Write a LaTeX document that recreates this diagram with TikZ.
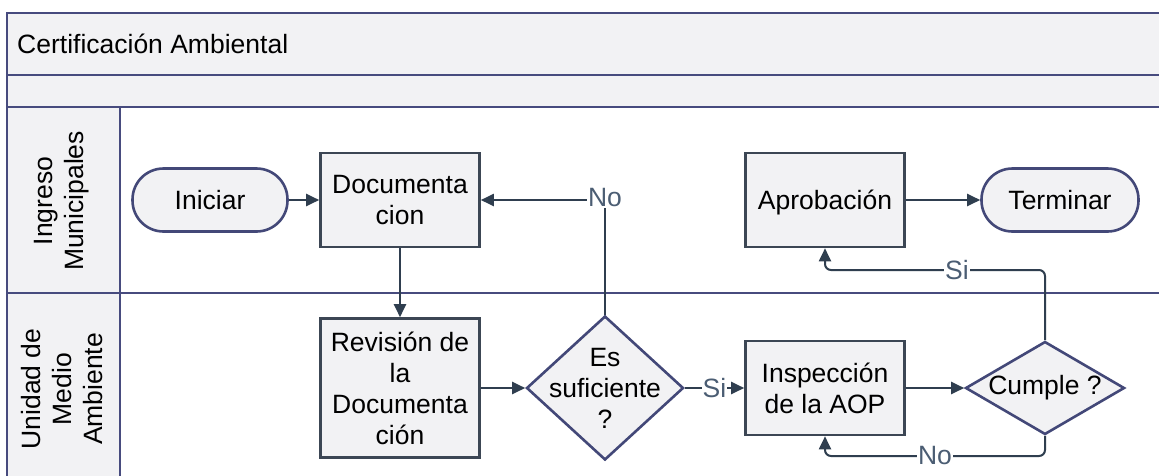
\documentclass[tikz,border=0pt]{standalone}
\usepackage{fontspec}
\setmainfont{Liberation Sans}
\usetikzlibrary{shapes.geometric,arrows.meta}
\definecolor{framec}{HTML}{474B7E}
\definecolor{boxc}{HTML}{3C4654}
\definecolor{pillc}{HTML}{434878}
\definecolor{arrc}{HTML}{2F3E4F}
\definecolor{lblc}{HTML}{4B5D73}
\definecolor{fillc}{HTML}{F2F2F4}
\begin{document}
\begin{tikzpicture}[x=1pt,y=-1pt,
  font=\fontsize{26.5}{31}\selectfont,
  frm/.style={draw=framec, line width=2.8pt},
  box/.style={draw=boxc, fill=fillc, line width=2.6pt, minimum width=159pt, minimum height=94pt, align=center, inner sep=0pt},
  pill/.style={draw=pillc, fill=fillc, line width=2.6pt, rounded corners=31pt, minimum width=155pt, minimum height=63pt, inner sep=0pt},
  dia/.style={diamond, draw=pillc, fill=fillc, line width=2.6pt, inner sep=0pt},
  txt/.style={align=center, inner sep=0pt},
  arr/.style={draw=arrc, line width=2pt, -{Triangle[length=13pt,width=12pt]}},
  lbl/.style={fill=white, text=lblc, inner sep=1pt}
]
\useasboundingbox (0,0) rectangle (1159,475);
\clip (0,0) rectangle (1159,475);
\fill[white] (0,0) rectangle (1159,475);
% frame
\path[frm, fill=fillc] (7,13) rectangle (1175,75);
\path[frm, fill=fillc] (7,75) rectangle (1175,107);
\path[frm, fill=fillc] (7,107) rectangle (120,490);
\path[frm] (120,107) rectangle (1175,293);
\path[frm] (120,293) rectangle (1175,490);
\path[frm] (7,293) -- (120,293);
\node[anchor=west, inner sep=0pt] (title) at (17,44) {Certificación Ambiental};
\node[txt, rotate=90] (lane1) at (62,201) {Ingreso\\Municipales};
\node[txt, rotate=90] (lane2) at (62,389) {Unidad de\\Medio\\Ambiente};
% nodes
\node[pill] (ini) at (210,200) {Iniciar};
\node[box] (doc) at (400,200) {Documenta\\cion};
\node[box, minimum height=139pt] (rev) at (400,388) {Revisión de\\la\\Documenta\\ción};
\node[dia, minimum width=157pt, minimum height=144pt] (suf) at (605,388) {};
\node[txt] (suft) at (suf) {Es\\suficiente\\?};
\node[box] (apro) at (825,200) {};
\node[txt] (aprot) at (825,202) {Aprobación};
\node[pill, minimum width=157pt] (ter) at (1060,200) {Terminar};
\node[box] (insp) at (825,388) {Inspección\\de la AOP};
\node[dia, minimum width=159pt, minimum height=93pt] (cum) at (1045,388) {};
\node[txt] (cumt) at (cum) {Cumple ?};
\coordinate (c1) at (1045,270);
\coordinate (c2) at (825,270);
\coordinate (c3) at (1045,456);
\coordinate (c4) at (825,456);
% connectors
\draw[arr] (ini) -- (doc);
\draw[arr] (doc) -- (rev);
\draw[arr] (rev.east) -- (suf.west);
\draw[arr] (suf.north) |- node[lbl, pos=0.5, yshift=2pt]{No} (doc.east);
\draw[arr] (suf.east) -- node[lbl]{Si} (insp.west);
\draw[arr] (insp) -- (cum);
\draw[arr, rounded corners=6pt] (cum.north) -- (c1) -- node[lbl, pos=0.4]{Si} (c2) -- (apro.south);
\draw[arr, rounded corners=6pt] (cum.south) -- (c3) -- node[lbl, pos=0.5]{No} (c4) -- (insp.south);
\draw[arr] (apro) -- (ter);
\end{tikzpicture}
\end{document}
